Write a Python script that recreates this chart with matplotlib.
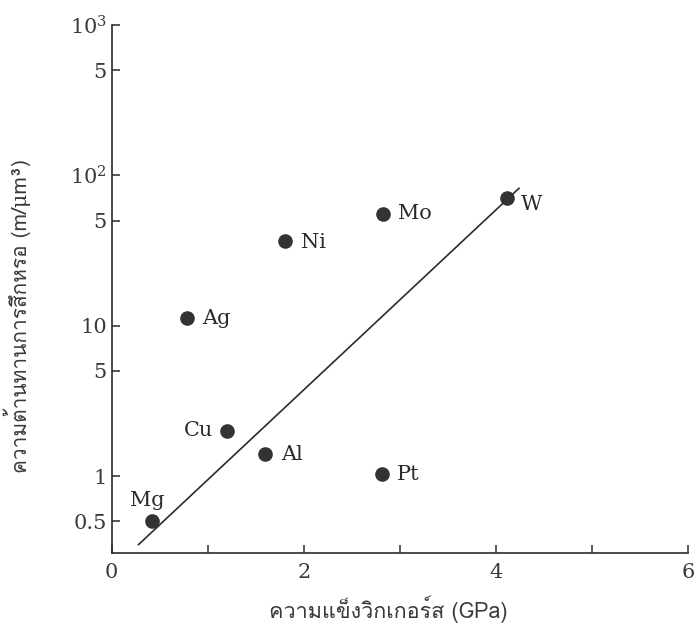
import matplotlib
matplotlib.use("Agg")
import matplotlib.pyplot as plt
from matplotlib import font_manager
from matplotlib.ft2font import FT2Font

# ข้อมูลจากกราฟ
metals = ["Mg", "Ag", "Cu", "Al", "Ni", "Mo", "Pt", "W"]
hardness = [0.42, 0.78, 1.20, 1.60, 1.80, 2.82, 2.81, 4.12]          # GPa
wear = [0.50, 11.2, 2.0, 1.4, 36.8, 55.4, 1.03, 70.4]              # m/um^3
fit_x = [0.28, 4.24]
fit_y = [0.35, 82.0]

yticks = [1000, 500, 100, 50, 10, 5, 1, 0.5]
ytick_labels = ["$10^3$", "5", "$10^2$", "5", "10", "5", "1", "0.5"]
xticks = [0, 2, 4, 6]
xticks_minor = [1, 3, 5]

# ตำแหน่งป้ายชื่อ (pixel offset)
label_offsets = {"Mg": (-5, 21), "Ag": (16, 0), "Cu": (-14, 0), "Al": (16, 0),
                 "Ni": (16, -2), "Mo": (15, 0), "Pt": (15, 0), "W": (13, -6)}
label_ha = {"Mg": "center", "Cu": "right"}


def thai_family():
    for f in font_manager.fontManager.ttflist:
        try:
            if 0x0E04 in FT2Font(f.fname).get_charmap():
                return f.name
        except Exception:
            pass
    return "DejaVu Sans"


thai = thai_family()
plt.rcParams["mathtext.fontset"] = "dejavuserif"
ink = "#2b2b2b"

fig = plt.figure(figsize=(6.95, 6.31), dpi=100)
ax = fig.add_axes([0.1607, 0.1231, 0.8293, 0.8373])

ax.plot(fit_x, fit_y, color=ink, lw=1.2)
ax.plot(hardness, wear, "o", color="#333333", ms=9.5, mec="#333333")

for m, x, y in zip(metals, hardness, wear):
    dx, dy = label_offsets[m]
    ax.annotate(m, (x, y), xytext=(dx, dy), textcoords="offset pixels",
                ha=label_ha.get(m, "left"), va="center", fontsize=15,
                family="DejaVu Serif", color=ink)

ax.set_yscale("log")
ax.set_xlim(0, 6)
ax.set_ylim(0.306, 1000)
ax.set_yticks(yticks)
ax.set_yticklabels(ytick_labels)
ax.yaxis.set_minor_locator(matplotlib.ticker.NullLocator())
ax.set_xticks(xticks)
ax.set_xticks(xticks_minor, minor=True)

for s in ["top", "right"]:
    ax.spines[s].set_visible(False)
for s in ["left", "bottom"]:
    ax.spines[s].set_color(ink)
    ax.spines[s].set_linewidth(1.2)

ax.tick_params(axis="both", which="both", direction="in", length=6,
               width=1.1, color=ink, labelcolor="#3a3a3a", labelsize=15)
for lab in ax.get_xticklabels() + ax.get_yticklabels():
    lab.set_family("DejaVu Serif")
ax.tick_params(axis="x", pad=7)

ax.set_xlabel("ความแข็งวิกเกอร์ส (GPa)", family=[thai, "DejaVu Serif"],
              fontsize=15.5, color="#3a3a3a")
ax.set_ylabel("ความต้านทานการสึกหรอ (m/μm³)", family=[thai, "DejaVu Serif"],
              fontsize=15, color="#3a3a3a")
ax.xaxis.set_label_coords(0.48, -0.08)
ax.yaxis.set_label_coords(-0.14, 0.45)

fig.savefig("out.png", dpi=100)
